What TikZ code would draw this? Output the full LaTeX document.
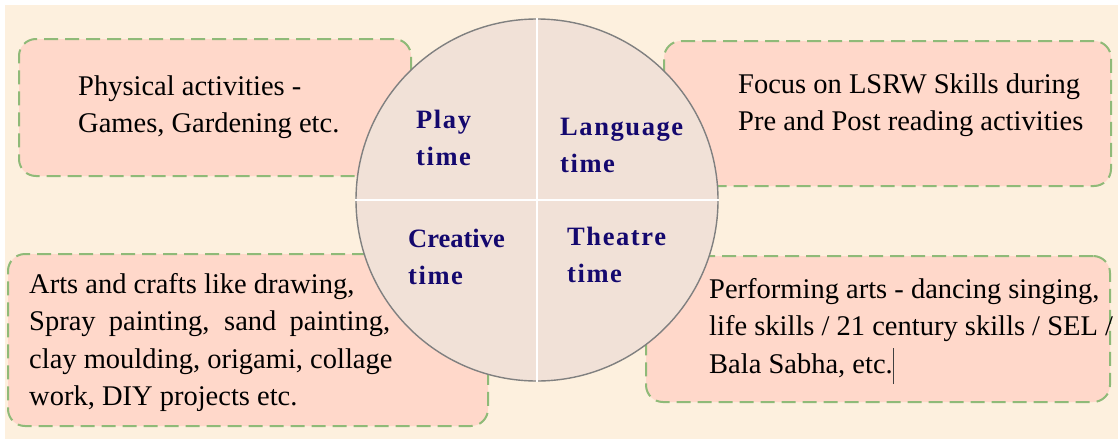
\documentclass[tikz,border=0pt]{standalone}
\usepackage{fontspec}
\setmainfont{Liberation Serif}
\definecolor{krem}{HTML}{FDF0DE}
\definecolor{somon}{HTML}{FFD8CA}
\definecolor{yesil}{HTML}{8FBA78}
\definecolor{teker}{HTML}{F1E1D7}
\definecolor{lacivert}{HTML}{14086E}
\tikzset{
    kutu/.style={draw=yesil, fill=somon, line width=2pt, dash pattern=on 14pt off 7pt,
        rounded corners=17pt, anchor=north west, inner sep=0pt},
    yazi/.style={anchor=north west, yshift=26.25pt, inner sep=0pt, align=left,
        font=\fontsize{28.5}{37.5}\selectfont},
    dilim/.style={anchor=north west, yshift=25.9pt, inner sep=0pt, align=left, text=lacivert,
        font=\fontsize{26.5}{37}\selectfont\bfseries\addfontfeature{LetterSpace=6}}
}

\begin{document}
\begin{tikzpicture}[x=1pt, y=-1pt]
    \useasboundingbox (0, 0) rectangle (1118, 439);
    \fill[krem] (5, 5) rectangle (1118, 439);

    % the four boxes
    \node[kutu, minimum width=392pt, minimum height=137pt] (oyunkutu) at (18, 38) {};
    \node[kutu, minimum width=447pt, minimum height=145pt] (dilkutu) at (663, 40) {};
    \node[kutu, minimum width=480pt, minimum height=172pt] (yaratkutu) at (7, 253) {};
    \node[kutu, minimum width=464pt, minimum height=146pt] (tiyatrokutu) at (645, 255) {};

    \node[yazi] (oyunyazi) at (78, 95) {\strut Physical activities -\\Games, Gardening etc.};
    \node[yazi] (dilyazi) at (738, 93) {\strut Focus on LSRW Skills during\\Pre and Post reading activities};
    \node[yazi] (yaratyazi) at (29, 293) {\strut Arts and crafts like drawing,\\
        \makebox[361pt][s]{Spray painting, sand painting,}\\
        clay moulding, origami, collage\\work, DIY projects etc.};
    \node[yazi] (tiyatroyazi) at (709, 298) {\strut Performing arts - dancing singing,\\
        life skills / 21 century skills / SEL /\\
        Bala Sabha, etc.\textcolor{black!75}{\rule[-11pt]{0.8pt}{36pt}}};

    % the wheel
    \node[circle, draw=black!50, fill=teker, line width=1.4pt, minimum size=362pt, inner sep=0pt]
        (teker) at (537, 200) {};
    \draw[white, line width=1.2pt] (teker.north) -- (teker.south);
    \draw[white, line width=1.2pt] (teker.west) -- (teker.east);

    \node[dilim] (oyun) at (416, 128) {\strut Play\\time};
    \node[dilim] (dil) at (560, 135) {\strut Language\\time};
    \node[dilim] (yarat) at (408, 247) {\strut{\addfontfeature{LetterSpace=0}Creative}\\time};
    \node[dilim] (tiyatro) at (567, 245) {\strut Theatre\\time};
\end{tikzpicture}
\end{document}
